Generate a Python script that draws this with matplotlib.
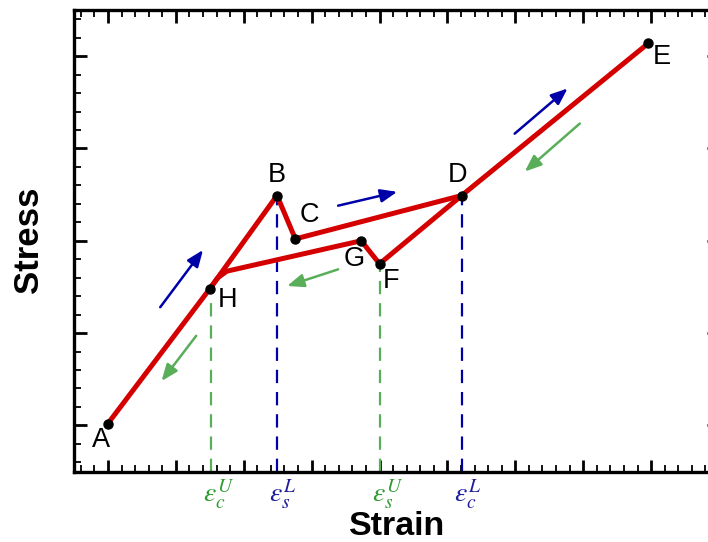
import numpy as np
import matplotlib
matplotlib.use("Agg")
import matplotlib.pyplot as plt
from matplotlib.ticker import MultipleLocator, NullFormatter

plt.rcParams['font.family'] = ['Liberation Sans', 'DejaVu Sans']
plt.rcParams['mathtext.fontset'] = 'stix'

# ---- Key points of the stress-strain loop ----
PT_NAMES = ['A', 'B', 'C', 'D', 'E', 'F', 'G', 'H']
PT_X = [1.0, 3.49, 3.76, 6.21, 8.96, 5.00, 4.73, 2.50]
PT_Y = [1.02, 3.49, 3.02, 3.49, 5.14, 2.75, 3.00, 2.48]

# loading branch A-H-B-C-D-E and unloading branch E-D-F-G-(kink)-H-A
LOAD_X = [1.0, 2.50, 3.49, 3.76, 6.21, 8.96]
LOAD_Y = [1.02, 2.48, 3.49, 3.02, 3.49, 5.14]
UNLOAD_X = [6.21, 5.00, 4.73, 2.75, 2.62, 2.50]
UNLOAD_Y = [3.49, 2.75, 3.00, 2.67, 2.60, 2.48]

# critical strains marked on the strain axis
EPS_X = [2.52, 3.49, 5.00, 6.21]
EPS_TOP = [2.40, 3.49, 2.75, 3.49]
EPS_TEX = [r'$\varepsilon_c^U$', r'$\varepsilon_s^L$', r'$\varepsilon_s^U$', r'$\varepsilon_c^L$']
EPS_KIND = ['U', 'L', 'U', 'L']

# direction arrows: (tail_x, tail_y, head_x, head_y)
LOAD_ARROWS = [(1.77, 2.28, 2.40, 2.90), (4.39, 3.38, 5.26, 3.53), (6.99, 4.16, 7.77, 4.65)]
UNLOAD_ARROWS = [(2.30, 1.97, 1.79, 1.48), (4.39, 2.69, 3.64, 2.51), (7.95, 4.27, 7.14, 3.75)]

RED = '#d40000'
BLUE = '#0000a8'
GREEN = '#5aae5a'
BLUE_TXT = '#1c1c9c'
GREEN_TXT = '#2f9a2f'

# label offsets in pixels from each key point
LBL_OFF = {'A': (-7, -16), 'B': (0, 21), 'C': (14, 24), 'D': (-4, 21), 'E': (13, -14),
           'F': (12, -17), 'G': (-7, -18), 'H': (18, -11)}

fig = plt.figure(figsize=(7.08, 5.42), dpi=100)
ax = fig.add_axes([74 / 708, 70.5 / 542, 645 / 708, 461.5 / 542])
ax.set_xlim(0.5, 10.0)
ax.set_ylim(0.5, 5.5)

for x, top, kind in zip(EPS_X, EPS_TOP, EPS_KIND):
    ax.plot([x, x], [0.5, top], color=GREEN if kind == 'U' else BLUE, lw=1.6,
            dashes=(6, 4), zorder=2)

ax.plot(LOAD_X, LOAD_Y, color=RED, lw=3.6, solid_joinstyle='round', zorder=3)
ax.plot(UNLOAD_X, UNLOAD_Y, color=RED, lw=3.6, solid_joinstyle='round', zorder=3)
ax.plot(PT_X, PT_Y, 'o', color='black', ms=6.5, zorder=4)

for name, x, y in zip(PT_NAMES, PT_X, PT_Y):
    ax.annotate(name, (x, y), xytext=LBL_OFF[name], textcoords='offset pixels',
                ha='center', va='center', fontsize=19.5)

for arrows, col in ((LOAD_ARROWS, BLUE), (UNLOAD_ARROWS, GREEN)):
    for tx, ty, hx, hy in arrows:
        ax.annotate('', xy=(hx, hy), xytext=(tx, ty),
                    arrowprops=dict(arrowstyle='-|>,head_length=1.0,head_width=0.4',
                                    color=col, lw=1.8, shrinkA=0, shrinkB=0))

for x, tex, kind in zip(EPS_X, EPS_TEX, EPS_KIND):
    ax.annotate(tex, (x, 0.0), xycoords=ax.get_xaxis_transform(), xytext=(-8, -6),
                textcoords='offset pixels', ha='left', va='top', fontsize=20,
                color=GREEN_TXT if kind == 'U' else BLUE_TXT)

# axis frame with inward ticks on all four sides, no numeric labels
for sp in ax.spines.values():
    sp.set_linewidth(2.4)
ax.xaxis.set_major_locator(MultipleLocator(1.0))
ax.xaxis.set_minor_locator(MultipleLocator(0.2))
ax.yaxis.set_major_locator(MultipleLocator(1.0))
ax.yaxis.set_minor_locator(MultipleLocator(0.2))
ax.xaxis.set_major_formatter(NullFormatter())
ax.yaxis.set_major_formatter(NullFormatter())
ax.tick_params(which='both', direction='in', top=True, right=True)
ax.tick_params(which='major', length=9, width=2)
ax.tick_params(which='minor', length=5, width=1.3)

fig.text(397 / 708, 0, 'Strain', fontsize=24.5, fontweight='bold',
         ha='center', va='bottom')
fig.text(29 / 708, 1 - 240 / 542, 'Stress', fontsize=25, fontweight='bold',
         ha='center', va='center', rotation=90)

fig.savefig('out.png', dpi=100)
